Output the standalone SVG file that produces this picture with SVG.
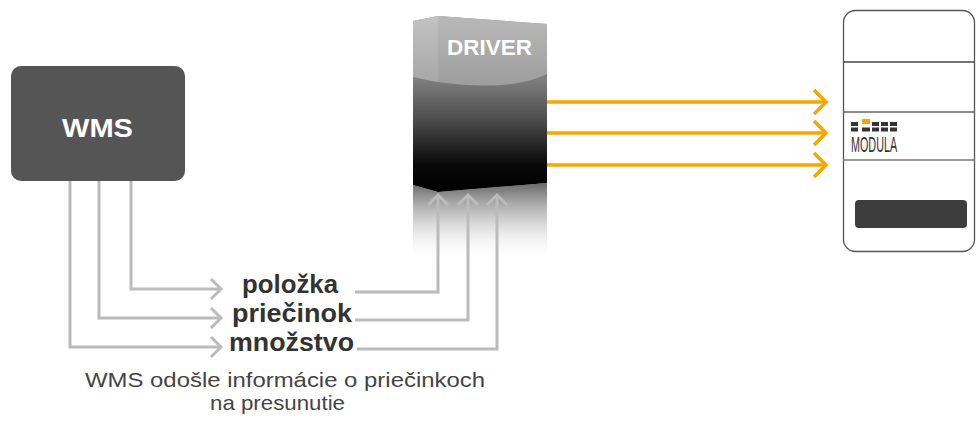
<svg xmlns="http://www.w3.org/2000/svg" width="976" height="422" viewBox="0 0 976 422">
<defs>
<linearGradient id="body" x1="0" y1="16" x2="0" y2="192" gradientUnits="userSpaceOnUse">
<stop offset="0" stop-color="#8c8c8c"/>
<stop offset="0.36" stop-color="#7e7e7e"/>
<stop offset="0.6" stop-color="#4a4a4a"/>
<stop offset="0.85" stop-color="#080808"/>
<stop offset="1" stop-color="#000"/>
</linearGradient>
<linearGradient id="top" x1="0" y1="16" x2="0" y2="90" gradientUnits="userSpaceOnUse">
<stop offset="0" stop-color="#b8b8b8"/>
<stop offset="1" stop-color="#9c9c9c"/>
</linearGradient>
<linearGradient id="topL" x1="0" y1="16" x2="0" y2="80" gradientUnits="userSpaceOnUse">
<stop offset="0" stop-color="#c2c2c2"/>
<stop offset="1" stop-color="#a8a8a8"/>
</linearGradient>
<linearGradient id="refl" x1="0" y1="185" x2="0" y2="262" gradientUnits="userSpaceOnUse">
<stop offset="0" stop-color="#6e6e6e" stop-opacity="1"/>
<stop offset="0.45" stop-color="#b0b0b0" stop-opacity="0.6"/>
<stop offset="1" stop-color="#ffffff" stop-opacity="0"/>
</linearGradient>
<style>
.g{fill:none;stroke:#bbbbbb;stroke-width:3}
.o{fill:none;stroke:#f7a600;stroke-width:3.5}
.lbl{font-family:"Liberation Sans",Arial,sans-serif;font-weight:bold;font-size:25px;fill:#333}
.cap{font-family:"Liberation Sans",Arial,sans-serif;font-size:21px;fill:#444}
.wt{font-family:"Liberation Sans",Arial,sans-serif;font-weight:bold;fill:#fff}
.blk{fill:#333}
</style>
</defs>
<rect width="976" height="422" fill="#fff"/>

<g id="wms">
<rect x="11" y="66" width="174" height="115" rx="10" fill="#555555"/>
<text class="wt" x="62" y="137" font-size="26" textLength="71" lengthAdjust="spacingAndGlyphs">WMS</text>
</g>

<g id="driver">
<polygon points="413,185 438,192 547,183 547,262 413,262" fill="url(#refl)"/>
<polygon points="413,21 438,16 438,192 413,185" fill="url(#body)"/>
<polygon points="438,16 547,24 547,183 438,192" fill="url(#body)"/>
<path d="M413,21 L438,16 L438,82 Q425,80 413,77 Z" fill="url(#topL)"/>
<path d="M438,16 L547,24 L547,74 Q510,92 438,82 Z" fill="url(#top)"/>
<text class="wt" x="447" y="55" font-size="22" textLength="85" lengthAdjust="spacingAndGlyphs">DRIVER</text>
</g>

<g id="modula">
<rect x="843.5" y="10.5" width="131" height="241" rx="12" fill="#fff" stroke="#555" stroke-width="1.3"/>
<line x1="843.5" y1="62" x2="974.5" y2="62" stroke="#444" stroke-width="1.3"/>
<line x1="843.5" y1="112" x2="974.5" y2="112" stroke="#666" stroke-width="1.3"/>
<line x1="843.5" y1="160" x2="974.5" y2="160" stroke="#777" stroke-width="1.3"/>
<rect x="855" y="200" width="112" height="28" rx="4" fill="#3d3d3d"/>
<g id="logo">
<rect class="blk" x="851" y="122" width="7" height="4"/>
<rect x="862" y="119" width="8" height="5" fill="#f7a600"/>
<rect class="blk" x="872" y="122" width="7" height="4"/>
<rect class="blk" x="881" y="122" width="7" height="4"/>
<rect class="blk" x="890" y="122" width="7" height="4"/>
<rect class="blk" x="851" y="127.5" width="7" height="4"/>
<rect class="blk" x="862" y="127.5" width="8" height="4"/>
<rect class="blk" x="872" y="127.5" width="7" height="4"/>
<rect class="blk" x="881" y="127.5" width="7" height="4"/>
<rect class="blk" x="890" y="127.5" width="7" height="4"/>
<text transform="translate(851,152) scale(0.49,1)" x="0" y="0" font-family="'Liberation Sans',Arial,sans-serif" font-size="22" fill="#333">MODULA</text>
</g>
</g>

<g id="labels">
<text class="lbl" x="242" y="293" textLength="96" lengthAdjust="spacingAndGlyphs">položka</text>
<text class="lbl" x="232" y="322" textLength="120" lengthAdjust="spacingAndGlyphs">priečinok</text>
<text class="lbl" x="229" y="351" textLength="125" lengthAdjust="spacingAndGlyphs">množstvo</text>
</g>

<g id="caption">
<text class="cap" x="85" y="387" textLength="400" lengthAdjust="spacingAndGlyphs">WMS odošle informácie o priečinkoch</text>
<text class="cap" x="210" y="410" textLength="135" lengthAdjust="spacingAndGlyphs">na presunutie</text>
</g>

<g id="connectors">
<path class="g" d="M131,181 V289 H221"/>
<path class="g" d="M211,279 L221,289 L211,299"/>
<path class="g" d="M99,181 V318 H221"/>
<path class="g" d="M211,308 L221,318 L211,328"/>
<path class="g" d="M70,181 V347 H221"/>
<path class="g" d="M211,337 L221,347 L211,357"/>
<path class="g" d="M355,292 H438 V195"/>
<path class="g" d="M428,205 L438,195 L448,205"/>
<path class="g" d="M355,320 H468 V195"/>
<path class="g" d="M458,205 L468,195 L478,205"/>
<path class="g" d="M357,349 H497 V195"/>
<path class="g" d="M487,205 L497,195 L507,205"/>
<path class="o" d="M547,102 H826"/>
<path class="o" d="M814,90 L826,102 L814,114"/>
<path class="o" d="M547,133 H826"/>
<path class="o" d="M814,121 L826,133 L814,145"/>
<path class="o" d="M547,165 H826"/>
<path class="o" d="M814,153 L826,165 L814,177"/>
</g>
</svg>
